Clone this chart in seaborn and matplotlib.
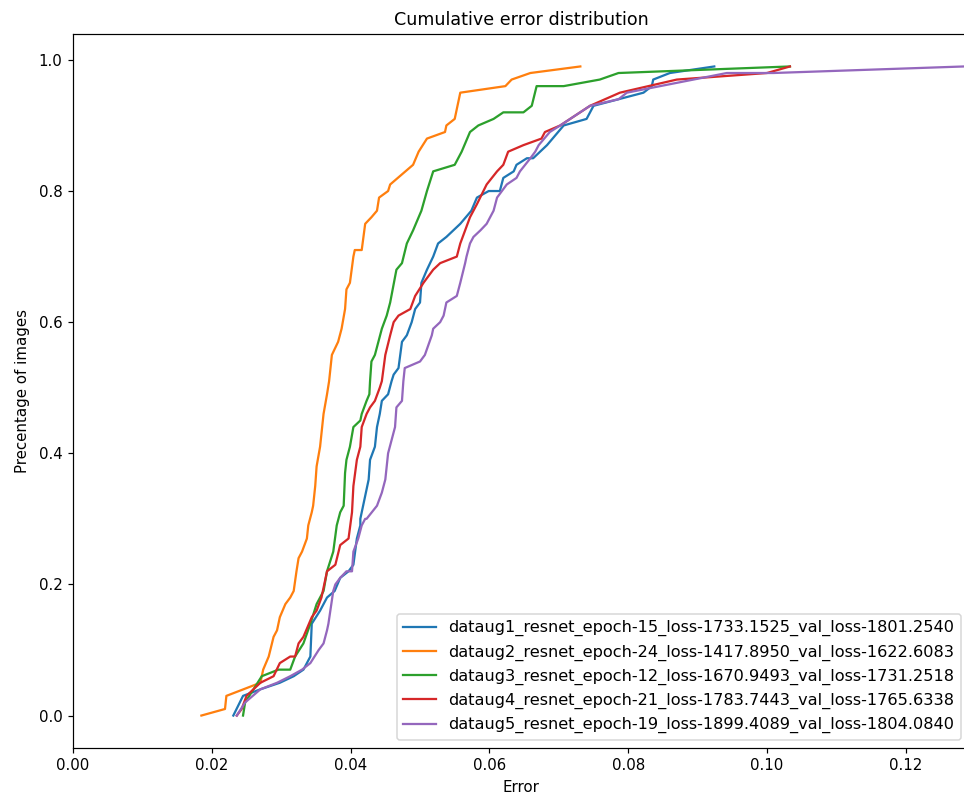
import numpy as np
import pandas as pd
import matplotlib
matplotlib.use("Agg")
import matplotlib.pyplot as plt
import seaborn as sns

# Sorted per-image errors and the cumulative share of images at each error
labels = [
    "dataug1_resnet_epoch-15_loss-1733.1525_val_loss-1801.2540",
    "dataug2_resnet_epoch-24_loss-1417.8950_val_loss-1622.6083",
    "dataug3_resnet_epoch-12_loss-1670.9493_val_loss-1731.2518",
    "dataug4_resnet_epoch-21_loss-1783.7443_val_loss-1765.6338",
    "dataug5_resnet_epoch-19_loss-1899.4089_val_loss-1804.0840",
]

aug1_err = [0.0231, 0.0245, 0.0270, 0.0298, 0.0318, 0.0332, 0.0342, 0.0344, 0.0356, 0.0366,
            0.0377, 0.0385, 0.0397, 0.0404, 0.0409, 0.0414, 0.0414, 0.0418, 0.0426, 0.0428,
            0.0435, 0.0438, 0.0442, 0.0445, 0.0454, 0.0459, 0.0462, 0.0469, 0.0474, 0.0481,
            0.0488, 0.0493, 0.0500, 0.0502, 0.0510, 0.0519, 0.0526, 0.0538, 0.0558, 0.0574,
            0.0582, 0.0599, 0.0615, 0.0620, 0.0635, 0.0639, 0.0654, 0.0663, 0.0683, 0.0707,
            0.0740, 0.0750, 0.0786, 0.0822, 0.0834, 0.0836, 0.0860, 0.0924]
aug1_pct = [0.00, 0.03, 0.04, 0.05, 0.06, 0.07, 0.09, 0.14, 0.16, 0.18,
            0.19, 0.21, 0.22, 0.23, 0.27, 0.29, 0.30, 0.32, 0.36, 0.39,
            0.41, 0.44, 0.46, 0.48, 0.49, 0.51, 0.52, 0.53, 0.57, 0.58,
            0.60, 0.62, 0.63, 0.66, 0.68, 0.70, 0.72, 0.73, 0.75, 0.77,
            0.79, 0.80, 0.80, 0.82, 0.83, 0.84, 0.85, 0.85, 0.87, 0.90,
            0.91, 0.93, 0.94, 0.95, 0.96, 0.97, 0.98, 0.99]

aug2_err = [0.0185, 0.0219, 0.0221, 0.0270, 0.0274, 0.0282, 0.0289, 0.0294, 0.0298, 0.0306,
            0.0313, 0.0318, 0.0322, 0.0325, 0.0330, 0.0337, 0.0339, 0.0344, 0.0346, 0.0349,
            0.0351, 0.0356, 0.0358, 0.0361, 0.0366, 0.0369, 0.0373, 0.0382, 0.0387, 0.0392,
            0.0394, 0.0399, 0.0404, 0.0406, 0.0416, 0.0421, 0.0430, 0.0438, 0.0441, 0.0454,
            0.0457, 0.0490, 0.0498, 0.0510, 0.0536, 0.0538, 0.0550, 0.0558, 0.0623, 0.0632,
            0.0659, 0.0731]
aug2_pct = [0.00, 0.01, 0.03, 0.05, 0.07, 0.09, 0.12, 0.13, 0.15, 0.17,
            0.18, 0.19, 0.22, 0.24, 0.25, 0.27, 0.29, 0.31, 0.32, 0.35,
            0.38, 0.41, 0.43, 0.46, 0.49, 0.51, 0.55, 0.57, 0.59, 0.62,
            0.65, 0.66, 0.70, 0.71, 0.71, 0.75, 0.76, 0.77, 0.79, 0.80,
            0.81, 0.84, 0.86, 0.88, 0.89, 0.90, 0.91, 0.95, 0.96, 0.97,
            0.98, 0.99]

aug3_err = [0.0245, 0.0248, 0.0272, 0.0296, 0.0313, 0.0320, 0.0332, 0.0342, 0.0351, 0.0361,
            0.0366, 0.0375, 0.0380, 0.0385, 0.0390, 0.0392, 0.0394, 0.0399, 0.0404, 0.0414,
            0.0416, 0.0423, 0.0427, 0.0428, 0.0430, 0.0435, 0.0445, 0.0452, 0.0457, 0.0466,
            0.0474, 0.0481, 0.0490, 0.0502, 0.0510, 0.0519, 0.0550, 0.0560, 0.0572, 0.0584,
            0.0606, 0.0620, 0.0649, 0.0661, 0.0668, 0.0707, 0.0759, 0.0786, 0.1033]
aug3_pct = [0.00, 0.02, 0.06, 0.07, 0.07, 0.09, 0.11, 0.14, 0.17, 0.19,
            0.22, 0.25, 0.29, 0.31, 0.32, 0.37, 0.39, 0.41, 0.44, 0.45,
            0.46, 0.48, 0.49, 0.51, 0.54, 0.55, 0.59, 0.61, 0.63, 0.68,
            0.69, 0.72, 0.74, 0.77, 0.80, 0.83, 0.84, 0.86, 0.89, 0.90,
            0.91, 0.92, 0.92, 0.93, 0.96, 0.96, 0.97, 0.98, 0.99]

aug4_err = [0.0236, 0.0243, 0.0250, 0.0270, 0.0289, 0.0298, 0.0313, 0.0320, 0.0325, 0.0332,
            0.0344, 0.0351, 0.0358, 0.0366, 0.0378, 0.0385, 0.0397, 0.0402, 0.0404, 0.0409,
            0.0414, 0.0416, 0.0423, 0.0428, 0.0435, 0.0442, 0.0445, 0.0450, 0.0457, 0.0462,
            0.0469, 0.0486, 0.0493, 0.0505, 0.0519, 0.0529, 0.0553, 0.0558, 0.0572, 0.0582,
            0.0596, 0.0611, 0.0620, 0.0627, 0.0649, 0.0675, 0.0680, 0.0702, 0.0745, 0.0788,
            0.0870, 0.1000, 0.1033]
aug4_pct = [0.00, 0.01, 0.03, 0.05, 0.06, 0.08, 0.09, 0.09, 0.11, 0.12,
            0.15, 0.16, 0.18, 0.22, 0.23, 0.26, 0.27, 0.31, 0.35, 0.39,
            0.41, 0.44, 0.46, 0.47, 0.48, 0.50, 0.51, 0.55, 0.58, 0.60,
            0.61, 0.62, 0.64, 0.66, 0.68, 0.69, 0.70, 0.72, 0.76, 0.78,
            0.81, 0.83, 0.84, 0.86, 0.87, 0.88, 0.89, 0.90, 0.93, 0.95,
            0.97, 0.98, 0.99]

aug5_err = [0.0236, 0.0248, 0.0270, 0.0294, 0.0313, 0.0330, 0.0342, 0.0354, 0.0361, 0.0366,
            0.0368, 0.0375, 0.0378, 0.0385, 0.0394, 0.0402, 0.0404, 0.0411, 0.0416, 0.0421,
            0.0423, 0.0438, 0.0445, 0.0450, 0.0454, 0.0459, 0.0464, 0.0466, 0.0474, 0.0476,
            0.0478, 0.0500, 0.0507, 0.0517, 0.0519, 0.0529, 0.0534, 0.0538, 0.0553, 0.0558,
            0.0565, 0.0567, 0.0572, 0.0577, 0.0587, 0.0596, 0.0606, 0.0611, 0.0625, 0.0639,
            0.0644, 0.0659, 0.0666, 0.0671, 0.0687, 0.0702, 0.0745, 0.0786, 0.0798, 0.0846,
            0.0942, 0.1009, 0.1284]
aug5_pct = [0.00, 0.02, 0.04, 0.05, 0.06, 0.07, 0.08, 0.10, 0.11, 0.13,
            0.14, 0.19, 0.20, 0.21, 0.22, 0.22, 0.25, 0.27, 0.29, 0.30,
            0.30, 0.32, 0.34, 0.36, 0.40, 0.42, 0.44, 0.47, 0.48, 0.51,
            0.53, 0.54, 0.55, 0.58, 0.59, 0.60, 0.61, 0.63, 0.64, 0.66,
            0.69, 0.70, 0.72, 0.73, 0.74, 0.75, 0.77, 0.79, 0.81, 0.82,
            0.83, 0.85, 0.86, 0.87, 0.89, 0.90, 0.93, 0.94, 0.95, 0.96,
            0.98, 0.98, 0.99]

series = [
    (aug1_err, aug1_pct),
    (aug2_err, aug2_pct),
    (aug3_err, aug3_pct),
    (aug4_err, aug4_pct),
    (aug5_err, aug5_pct),
]

frames = []
for name, (err, pct) in zip(labels, series):
    frames.append(pd.DataFrame({"Error": err, "Percentage": pct, "model": name}))
df = pd.concat(frames, ignore_index=True)

dpi = 108
fig, ax = plt.subplots(figsize=(964 / dpi, 798 / dpi), dpi=dpi)
fig.subplots_adjust(left=73 / 964, right=969 / 964, bottom=1 - 748 / 798, top=1 - 34 / 798)

sns.lineplot(
    data=df, x="Error", y="Percentage", hue="model", hue_order=labels,
    palette="tab10", estimator=None, sort=False, linewidth=1.5, ax=ax,
)

ax.set_xlim(0, 0.1291)
ax.set_title("Cumulative error distribution", fontsize=11.7)
ax.set_xlabel("Error")
ax.set_ylabel("Precentage of images", labelpad=6)
sns.move_legend(ax, "lower right", title=None, fontsize=10.75)

fig.savefig("out.png", dpi=dpi)
